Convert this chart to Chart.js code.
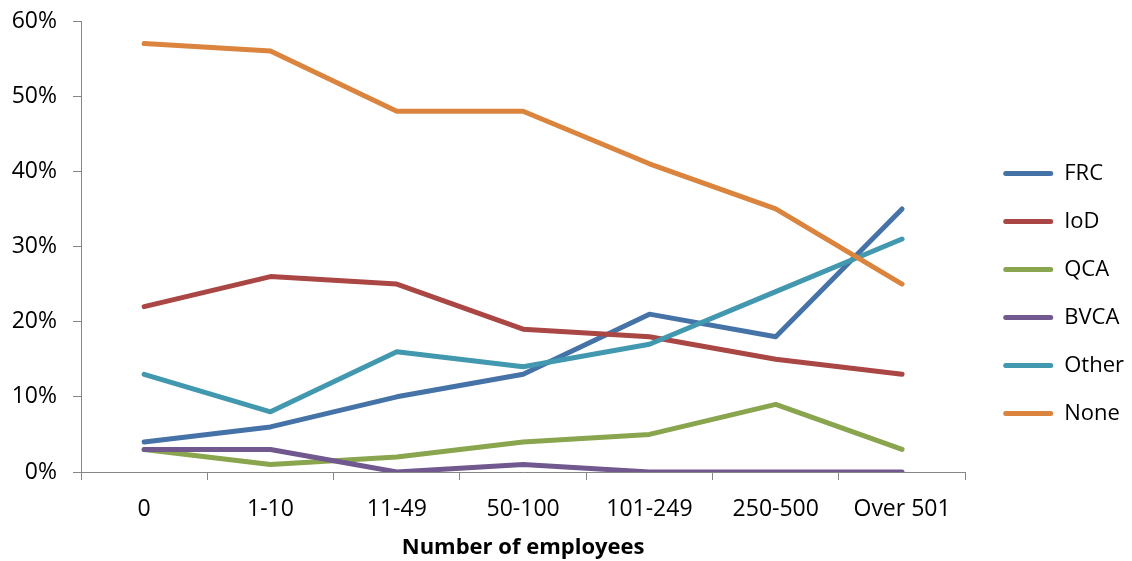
<!DOCTYPE html>
<html>
<head>
<meta charset="utf-8">
<script src="https://cdn.jsdelivr.net/npm/chart.js@4.4.1/dist/chart.umd.min.js"></script>
<style>
  html, body { margin: 0; padding: 0; background: #fff; }
  #wrap { width: 1132px; height: 561px; }
</style>
</head>
<body>
<div id="wrap"><canvas id="c" width="1132" height="561"></canvas></div>
<script>
// Company size bands
const categories = ['0', '1-10', '11-49', '50-100', '101-249', '250-500', 'Over 501'];

// Share of respondents (%) per band
const frc   = [4, 6, 10, 13, 21, 18, 35];
const iod   = [22, 26, 25, 19, 18, 15, 13];
const qca   = [3, 1, 2, 4, 5, 9, 3];
const bvca  = [3, 3, 0, 1, 0, 0, 0];
const other = [13, 8, 16, 14, 17, 24, 31];
const none  = [57, 56, 48, 48, 41, 35, 25];

const yTicks = [0, 10, 20, 30, 40, 50, 60];

const seriesNames  = ['FRC', 'IoD', 'QCA', 'BVCA', 'Other', 'None'];
const seriesValues = [frc, iod, qca, bvca, other, none];
const seriesColors = ['#4572A7', '#AA4643', '#89A54E', '#71588F', '#4198AF', '#DB843D'];

const FONT = '"Open Sans", Lato, sans-serif';
const axisGrey = '#868686';

const datasets = seriesNames.map((name, i) => ({
  label: name,
  data: seriesValues[i],
  borderColor: seriesColors[i],
  backgroundColor: seriesColors[i],
  borderWidth: 5,
  borderCapStyle: 'round',
  borderJoinStyle: 'round',
  pointRadius: 0,
  pointHoverRadius: 0,
  tension: 0,
  fill: false,
  // later series paint over earlier ones
  order: seriesNames.length - i
}));

new Chart(document.getElementById('c'), {
  type: 'line',
  data: { labels: categories, datasets },
  options: {
    responsive: false,
    animation: false,
    devicePixelRatio: 1,
    layout: { padding: { top: 21, right: -2, bottom: 0, left: 0 } },
    plugins: {
      tooltip: { enabled: false },
      legend: {
        position: 'right',
        align: 'center',
        title: { display: true, text: ' ', font: { size: 4, lineHeight: 1.2 }, padding: 0 },
        labels: {
          font: { family: FONT, size: 22 },
          color: '#000',
          boxWidth: 50,
          boxHeight: 5,
          padding: 26,
          useBorderRadius: true,
          borderRadius: 2.5,
          sort: (a, b) => a.datasetIndex - b.datasetIndex,
          generateLabels: (chart) =>
            Chart.defaults.plugins.legend.labels.generateLabels(chart)
              .map(item => Object.assign(item, { lineWidth: 0 }))
        }
      }
    },
    scales: {
      x: {
        type: 'category',
        offset: true,
        grid: {
          offset: true,
          drawOnChartArea: false,
          drawTicks: true,
          tickLength: 8,
          color: axisGrey
        },
        border: { color: axisGrey, width: 1 },
        ticks: {
          font: { family: FONT, size: 23 },
          color: '#000',
          padding: 16,
          maxRotation: 0,
          autoSkip: false
        },
        title: {
          display: true,
          text: 'Number of employees',
          font: { family: FONT, size: 22, weight: 'bold' },
          color: '#000',
          padding: { top: 2, bottom: 0 }
        },
        afterFit: (s) => { s.height = 89; s.paddingLeft = 0; s.paddingRight = 0; }
      },
      y: {
        min: 0,
        max: 60,
        afterBuildTicks: (s) => { s.ticks = yTicks.map(v => ({ value: v })); },
        grid: {
          drawOnChartArea: false,
          drawTicks: true,
          tickLength: 8,
          color: axisGrey
        },
        border: { color: axisGrey, width: 1 },
        ticks: {
          font: { family: FONT, size: 23 },
          color: '#000',
          padding: 16,
          callback: (v) => v + '%'
        },
        afterFit: (s) => { s.width = 81; s.paddingTop = 0; s.paddingBottom = 0; }
      },
      // empty spacer between plot and legend
      gap: {
        type: 'linear',
        position: 'right',
        display: true,
        grid: { display: false },
        border: { display: false },
        ticks: { display: false },
        afterFit: (s) => { s.width = 12; }
      }
    }
  }
});
</script>
</body>
</html>
